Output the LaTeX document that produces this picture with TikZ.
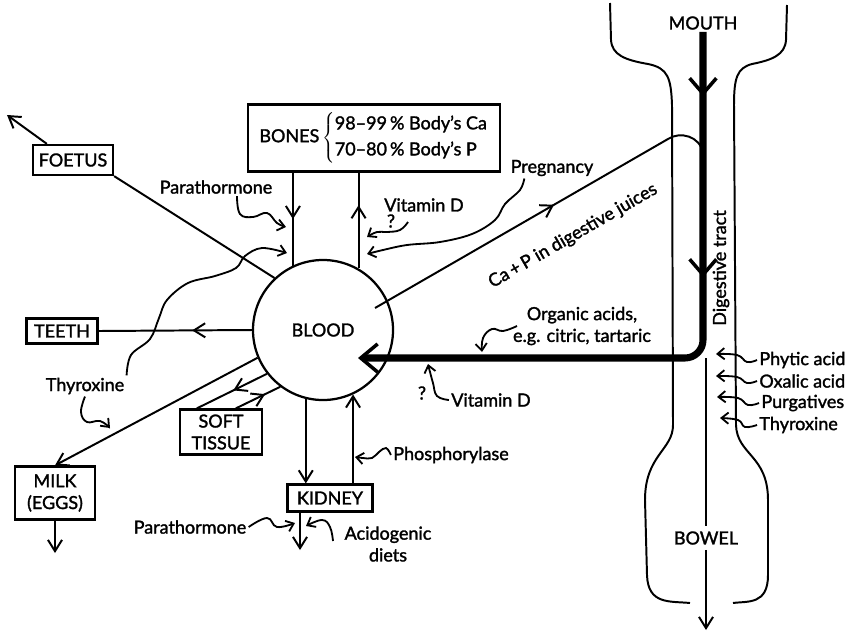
\documentclass[tikz,border=0pt]{standalone}
\usepackage{fontspec}
\setmainfont{Lato}[RawFeature={embolden=1.6}]
\usepackage{tikz}
\usetikzlibrary{arrows.meta,positioning,calc,decorations.markings}

\begin{document}
\begin{tikzpicture}[
    x=0.025cm, y=-0.025cm,
    line width=1.4pt,
    >={Straight Barb[length=8pt,width=10pt]},
    box/.style={draw, line width=1.6pt, inner sep=2pt, align=center},
    lbl/.style={inner sep=1pt},
    wave/.style={line width=1.3pt, -{Straight Barb[length=5pt,width=8pt]}},
    gut/.style={line width=5pt},
    midarrow/.style={postaction={decorate}, decoration={markings, mark=at position #1 with {\arrow{>}}}},
    font=\fontsize{12.8}{15.5}\selectfont
]
\useasboundingbox (0,0) rectangle (848,633);

% organs
\node[circle, draw, line width=1.6pt, minimum size=3.5cm] (blood) at (323,330) {BLOOD};
\node[box, minimum width=6.3cm, minimum height=1.675cm] (bones) at (374,138) {BONES\,$\left\{\begin{tabular}{@{}l@{}}98--99\,\% Body's Ca\\[3pt]70--80\,\% Body's P\end{tabular}\right.$};
\node[box, minimum width=2cm, minimum height=0.75cm] (foetus) at (73,160) {FOETUS};
\node[box, minimum width=1.775cm, minimum height=0.625cm] (teeth) at (62,331) {TEETH};
\node[box, minimum width=2cm, minimum height=1.325cm] (milk) at (55,493) {MILK\\(EGGS)};
\node[box, minimum width=2.05cm, minimum height=1.125cm] (soft) at (221,432) {SOFT\\TISSUE};
\node[box, minimum width=2.125cm, minimum height=0.675cm] (kidney) at (330,498) {KIDNEY};
\node[lbl] (mouth) at (703,23) {MOUTH};
\node[lbl, inner sep=3pt] (bowel) at (706,538) {BOWEL};
\node[lbl, rotate=90] (tract) at (721,268) {Digestive tract};

% labels
\node[lbl] (parabones) at (216,187) {Parathormone};
\node[lbl] (vitdtop) at (424,205) {Vitamin D};
\node[lbl] (qtop) at (391,221) {?};
\node[lbl] (preg) at (552,168) {Pregnancy};
\node[lbl, rotate=30] (juices) at (573,236) {Ca\,+\,P in digestive juices};
\node[lbl] (thyr) at (85,386) {Thyroxine};
\node[lbl, align=center] (organic) at (582,326) {Organic acids,\\e.g. citric, tartaric};
\node[lbl] (qlow) at (422,393) {?};
\node[lbl] (vitdlow) at (491,400) {Vitamin D};
\node[lbl] (phos) at (451,455) {Phosphorylase};
\node[lbl] (parakid) at (190,527) {Parathormone};
\node[lbl, align=center] (acido) at (388,544) {Acidogenic\\diets};
\node[lbl, anchor=west] (phytic) at (757,360) {Phytic acid};
\node[lbl, anchor=west] (oxalic) at (757,381) {Oxalic acid};
\node[lbl, anchor=west] (purg) at (759,403) {Purgatives};
\node[lbl, anchor=west] (thyrgut) at (757,425) {Thyroxine};

% digestive tract
\draw (610,3) -- (611,40) .. controls (612,55) and (625,60) .. (648,64)
      .. controls (668,68) and (671,78) .. (672,105) -- (673,425)
      .. controls (673,450) and (645,455) .. (645,500) -- (647,575)
      .. controls (648,605) and (670,601) .. (690,603);
\draw (787,5) -- (786,40) .. controls (785,55) and (772,60) .. (752,64)
      .. controls (737,68) and (734,78) .. (734,105) -- (736,425)
      .. controls (737,455) and (768,455) .. (768,500) -- (768,575)
      .. controls (768,605) and (748,601) .. (733,603);
\coordinate (absorbtip) at ($(blood.center)+(35,28)$);
\draw[gut, rounded corners=0.45cm, -{Straight Barb[length=12pt,width=20pt,line width=2.5pt]},
      postaction={decorate}, decoration={markings,
        mark=at position 0.097 with {\arrow{Straight Barb[length=11pt,width=19pt,line width=2.5pt]}},
        mark=at position 0.37 with {\arrow{Straight Barb[length=11pt,width=19pt,line width=2.5pt]}}}]
      (mouth.south) |- (absorbtip);
\draw (bowel.north |- absorbtip) -- (bowel.north);
\coordinate (bowelout) at (706,630);
\draw[->] (bowel.south) -- (bowelout);

% blood exchanges
\draw (blood.133) -- (foetus.south east);
\coordinate (foetusout) at (7,115);
\draw[->] ($(foetus.north west)+(15,0)$) -- (foetusout);
\draw[midarrow=0.5] (blood.115.4 |- bones.south) -- (blood.115.4);
\draw[midarrow=0.66] (blood.60) -- (blood.60 |- bones.south);
\draw[midarrow=0.39] (blood.west) -- (teeth.east);
\draw[->] (blood.203) -- (milk.north);
\coordinate (milkout) at (55,553);
\draw[->] (milk.south) -- (milkout);
\draw[midarrow=0.48] (blood.218) -- ($(soft.north west)+(18,0)$);
\draw[midarrow=0.66] ($(soft.north west)+(57,0)$) -- (blood.233);
\draw[->] (blood.-104) -- (blood.-104 |- kidney.north);
\draw[->] (blood.-65.5 |- kidney.north) -- (blood.-65.5);
\coordinate (kidout) at (300,550);
\draw[->] (kidney.south -| kidout) -- (kidout);
\coordinate (juicestart) at ($(blood.center)+(52,-22)$);
\coordinate (juicetop) at (668,139);
\coordinate (juiceend) at (703,153);
\draw[midarrow=0.54] (juicestart) -- (juicetop) .. controls (680,131) and (700,136) .. (juiceend);

% influences
\coordinate (parabonestip) at (286,227);
\draw[wave] plot[smooth, tension=0.7] coordinates {($(parabones.south)+(21,0)$) (240,214) (253,217) (267,213) (277,223) (parabonestip)};
\coordinate (thyrtip) at (287,253);
\draw[wave] plot[smooth, tension=0.6] coordinates {(thyr.north east) (131,355) (150,339) (159,318) (167,300) (188,283) (215,276) (236,268) (245,256) (262,248) (thyrtip)};
\coordinate (thyrmilk) at (110,428);
\draw[wave] plot[smooth, tension=0.7] coordinates {(thyr.south) (81,412) (87,422) (100,421) (thyrmilk)};
\coordinate (vitdtoptip) at (367,237);
\draw[wave] plot[smooth, tension=0.7] coordinates {(408,222) (400,230) (387,232) (377,232) (vitdtoptip)};
\coordinate (pregtip) at (367,254);
\draw[wave] plot[smooth, tension=0.6] coordinates {($(preg.south west)+(16,0)$) (520,190) (505,204) (495,220) (472,234) (440,242) (407,245) (383,250) (pregtip)};
\coordinate (organictip) at (482,352);
\draw[wave] plot[smooth, tension=0.7] coordinates {(517,326) (503,331) (492,329) (483,338) (organictip)};
\coordinate (vitdlowtip) at (428,364);
\draw[wave] plot[smooth, tension=0.7] coordinates {(vitdlow.west) (437,396) (433,383) (430,372) (vitdlowtip)};
\coordinate (phostip) at (355,457);
\draw[wave] plot[smooth, tension=0.7] coordinates {(phos.west) (386,448) (379,452) (372,458) (363,458) (phostip)};
\coordinate (parakidtip) at (295,523);
\draw[wave] plot[smooth, tension=0.7] coordinates {(parakid.east) (267,518) (277,527) (parakidtip)};
\coordinate (acidotip) at (306,526);
\draw[wave] plot[smooth, tension=0.7] coordinates {(333,541) (330,527) (322,520) (acidotip)};
\coordinate (phytictip) at (716,354);
\draw[wave] plot[smooth, tension=0.7] coordinates {(phytic.west) (747,362) (737,355) (phytictip)};
\coordinate (oxalictip) at (716,376);
\draw[wave] plot[smooth, tension=0.7] coordinates {(oxalic.west) (747,383) (737,377) (oxalictip)};
\coordinate (purgtip) at (717,397);
\draw[wave] plot[smooth, tension=0.7] coordinates {(purg.west) (748,405) (738,398) (purgtip)};
\coordinate (thyrguttip) at (720,418);
\draw[wave] plot[smooth, tension=0.7] coordinates {(thyrgut.west) (745,427) (738,420) (thyrguttip)};

\end{tikzpicture}
\end{document}
